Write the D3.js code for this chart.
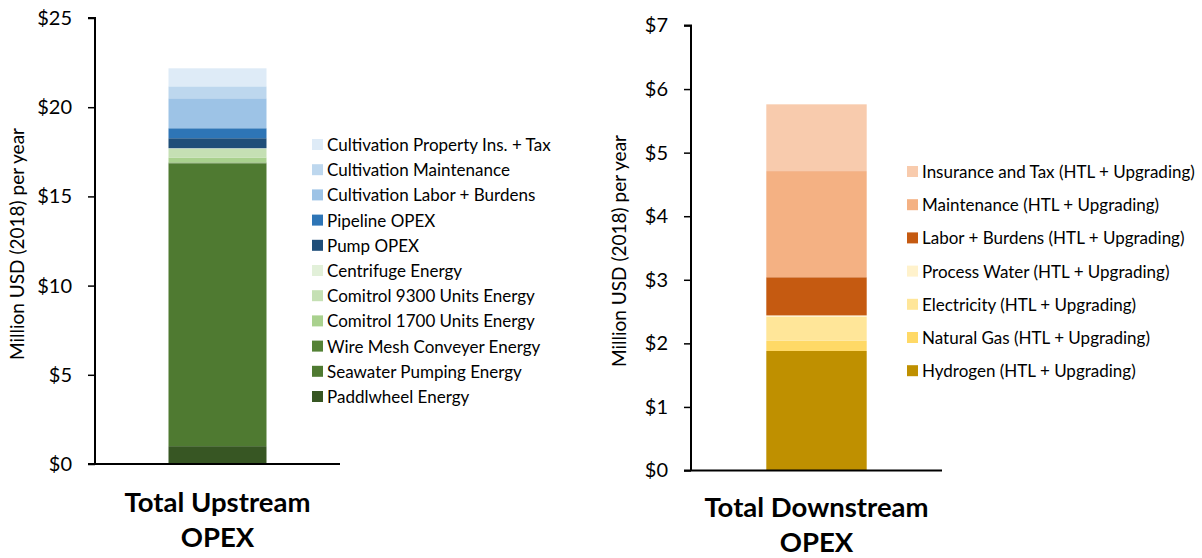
<!DOCTYPE html>
<html>
<head>
<meta charset="utf-8">
<script src="https://cdn.jsdelivr.net/npm/d3@7"></script>
<style>
  body { margin: 0; background: #fff; }
  svg { font-family: Lato, "Open Sans", sans-serif; }
</style>
</head>
<body>
<svg id="chart" width="1202" height="558"></svg>
<script>
// Upstream OPEX components (million USD 2018 / yr), bottom to top
const upCategories = ["Paddlwheel Energy", "Seawater Pumping Energy", "Wire Mesh Conveyer Energy",
  "Comitrol 1700 Units Energy", "Comitrol 9300 Units Energy", "Centrifuge Energy",
  "Pump OPEX", "Pipeline OPEX", "Cultivation Labor + Burdens", "Cultivation Maintenance",
  "Cultivation Property Ins. + Tax"];
const upValues = [1.0, 15.85, 0.05, 0.28, 0.50, 0.02, 0.56, 0.56, 1.68, 0.67, 1.01];
const upColors = ["#375623", "#4f7a31", "#548235", "#a9d18e", "#c5e0b4", "#e2f0d9",
  "#1f4e79", "#2e75b6", "#9dc3e6", "#bdd7ee", "#deebf7"];
const upTicks = [0, 5, 10, 15, 20, 25];

// Downstream OPEX components, bottom to top
const downCategories = ["Hydrogen (HTL + Upgrading)", "Natural Gas (HTL + Upgrading)",
  "Electricity (HTL + Upgrading)", "Process Water (HTL + Upgrading)",
  "Labor + Burdens (HTL + Upgrading)", "Maintenance (HTL + Upgrading)",
  "Insurance and Tax (HTL + Upgrading)"];
const downValues = [1.88, 0.16, 0.38, 0.02, 0.60, 1.67, 1.05];
const downColors = ["#bf9000", "#ffd966", "#ffe699", "#fff2cc", "#c55a11", "#f4b183", "#f8cbad"];
const downTicks = [0, 1, 2, 3, 4, 5, 6, 7];

const svg = d3.select("#chart");

function panel(opt) {
  const g = svg.append("g");
  const y = d3.scaleLinear().domain([0, opt.max]).range([opt.y0, opt.y1]);
  const key = opt.title.join(" ");
  const x = d3.scaleBand().domain([key]).range([opt.x0, opt.x1]).paddingInner(0).paddingOuter(0.75);

  // stacked segments
  let acc = 0;
  const segs = opt.values.map((v, i) => { const s = { lo: acc, hi: acc + v, c: opt.colors[i] }; acc += v; return s; });
  g.selectAll("rect.seg").data(segs).enter().append("rect")
    .attr("x", x(key))
    .attr("width", x.bandwidth())
    .attr("y", d => y(d.hi))
    .attr("height", d => y(d.lo) - y(d.hi))
    .attr("fill", d => d.c);

  // y axis
  const ya = g.append("g").attr("transform", `translate(${opt.x0},0)`)
    .call(d3.axisLeft(y).tickValues(opt.ticks).tickSize(7).tickPadding(16).tickFormat(d => "$" + d));
  ya.select(".domain").attr("stroke", "#000").attr("stroke-width", 2).attr("d", `M-7,${opt.y1}H0V${opt.y0}`);
  ya.selectAll(".tick line").attr("stroke", "#000").attr("stroke-width", 1.5);
  ya.selectAll(".tick text").attr("font-size", 20).attr("fill", "#000").attr("font-family", "Lato, sans-serif");

  // baseline
  g.append("line").attr("x1", opt.x0 - 7).attr("x2", opt.x1).attr("y1", opt.y0).attr("y2", opt.y0)
    .attr("stroke", "#000").attr("stroke-width", 2);

  // y title
  g.append("text")
    .attr("transform", `translate(${opt.titleX},${(opt.y0 + opt.y1) / 2 + 3}) rotate(-90)`)
    .attr("text-anchor", "middle").attr("font-size", 19).attr("fill", "#000")
    .text("Million USD (2018) per year");

  // category label
  const cx = x(key) + x.bandwidth() / 2;
  opt.title.forEach((t, i) => {
    g.append("text").attr("x", cx).attr("y", opt.labelY + i * 35)
      .attr("text-anchor", "middle").attr("font-weight", "bold").attr("font-size", 27.5).attr("fill", "#000")
      .text(t);
  });

  // legend, top entry first
  const items = opt.categories.map((c, i) => ({ c, col: opt.colors[i] })).reverse();
  const lg = g.append("g");
  items.forEach((d, i) => {
    const yy = opt.legY + i * opt.legStep;
    lg.append("rect").attr("x", opt.legX).attr("y", yy - 6).attr("width", 11).attr("height", 11).attr("fill", d.col);
    lg.append("text").attr("x", opt.legX + 15).attr("y", yy).attr("dy", "0.35em")
      .attr("font-size", opt.legFont).attr("fill", "#000").text(d.c);
  });
}

panel({ categories: upCategories, values: upValues, colors: upColors, ticks: upTicks, max: 25,
  x0: 95, x1: 340, y0: 464, y1: 18, titleX: 24, labelY: 512, title: ["Total Upstream", "OPEX"],
  legX: 312, legY: 145, legStep: 25.2, legFont: 17 });

panel({ categories: downCategories, values: downValues, colors: downColors, ticks: downTicks, max: 7,
  x0: 691, x1: 942, y0: 470.5, y1: 25.5, titleX: 626, labelY: 517, title: ["Total Downstream", "OPEX"],
  legX: 907, legY: 172, legStep: 33.2, legFont: 17 });
</script>
</body>
</html>
